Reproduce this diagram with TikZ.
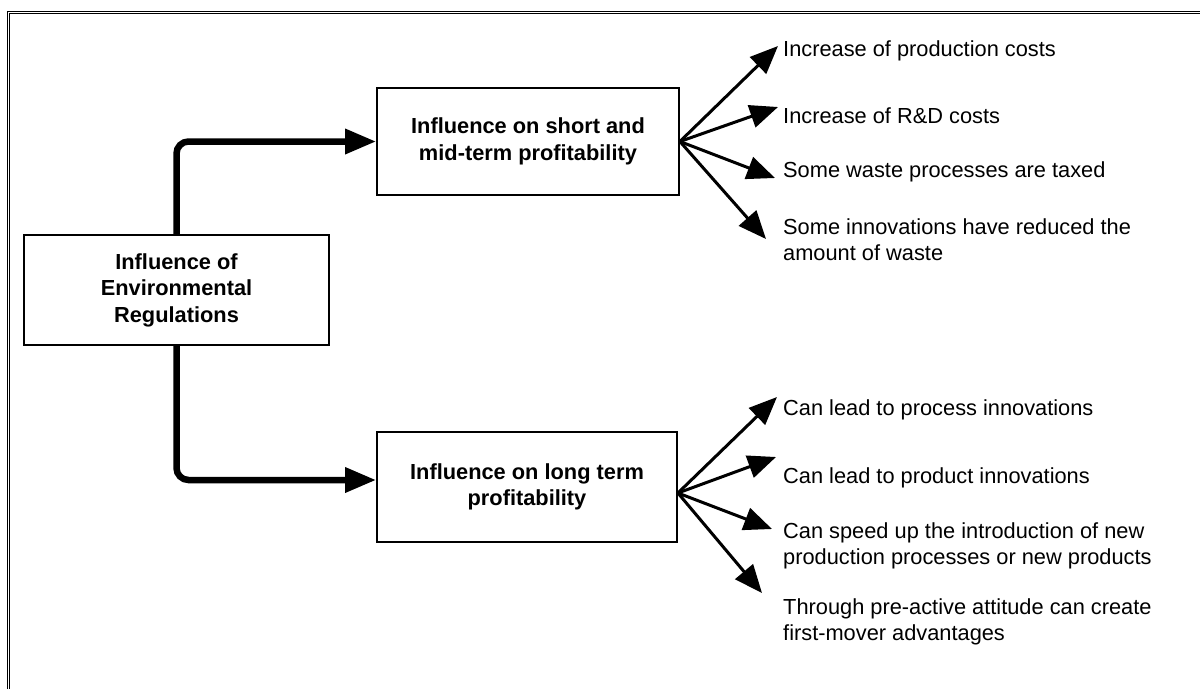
\documentclass[tikz,border=0pt]{standalone}
\usepackage{fontspec}
\setmainfont{Liberation Sans}
\usetikzlibrary{arrows.meta}
\begin{document}
\begin{tikzpicture}[x=1pt,y=-1pt,
  box/.style={draw, line width=1.8pt, inner sep=0pt, align=center,
    font=\bfseries\fontsize{21.8}{26.5}\selectfont},
  item/.style={anchor=north west, inner sep=0pt, align=left,
    font=\fontsize{21.8}{26}\selectfont},
  mainflow/.style={line width=6.5pt, rounded corners=12pt,
    -{Triangle[length=31pt,width=24pt]}},
  fanarrow/.style={line width=3pt, -{Triangle[length=28pt,width=23pt]}},
  frame/.style={line width=1pt, double, double distance=1.2pt}
]
\useasboundingbox (0,0) rectangle (1200,689);
% outer frame (top and left edges)
\draw[frame] (8.5,689) -- (8.5,12.5) -- (1200,12.5);

% boxes
\node[box, minimum width=305pt, minimum height=110pt] (reg) at (176.5,290)
  {Influence of\\Environmental\\Regulations};
\node[box, minimum width=302pt, minimum height=107pt] (short) at (528,141.5)
  {Influence on short and\\mid-term profitability};
\node[box, minimum width=300pt, minimum height=110pt] (long) at (527,487)
  {Influence on long term\\profitability};

% elbow arrows
\draw[mainflow] (reg.north) |- (short.west);
\draw[mainflow] (reg.south) |- ([yshift=7pt]long.west);

% effect texts
\node[item] (a1) at (783,40) {Increase of production costs};
\node[item] (a2) at (783,108) {Increase of R\&D costs};
\node[item] (a3) at (783,161) {Some waste processes are taxed};
\node[item] (a4) at (783,218) {Some innovations have reduced the\\amount of waste};
\node[item] (b1) at (783,399) {Can lead to process innovations};
\node[item] (b2) at (783,467) {Can lead to product innovations};
\node[item] (b3) at (783,522) {Can speed up the introduction of new\\production processes or new products};
\node[item] (b4) at (783,598) {Through pre-active attitude can create\\first-mover advantages};

% fan arrow tips
\coordinate (s1) at (778,46);
\coordinate (s2) at (778,107);
\coordinate (s3) at (775,178);
\coordinate (s4) at (766,239);
\coordinate (l1) at (777,397);
\coordinate (l2) at (776,457);
\coordinate (l3) at (772,529);
\coordinate (l4) at (762,593);
\coordinate (lo) at ([yshift=-6pt]long.east);

\foreach \t in {s1,s2,s3,s4} \draw[fanarrow] (short.east) -- (\t);
\foreach \t in {l1,l2,l3,l4} \draw[fanarrow] (lo) -- (\t);
\end{tikzpicture}
\end{document}
